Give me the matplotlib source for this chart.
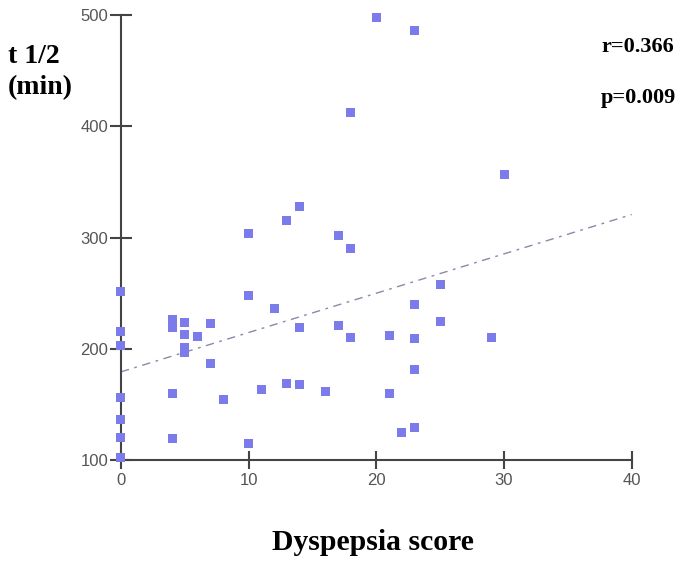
import numpy as np
import matplotlib
matplotlib.use("Agg")
import matplotlib.pyplot as plt

# values
score = [0, 0, 0, 0, 0, 0, 0,
         4, 4, 4, 4, 5, 5, 5, 5, 6, 7, 7, 8,
         10, 10, 10, 11, 12, 13, 13, 14, 14, 14, 16, 17, 17, 18, 18, 18,
         20, 21, 21, 22, 23, 23, 23, 23, 23, 25, 25, 29, 30]
t_half = [252, 216, 203, 156, 136, 120, 102,
          226, 219, 160, 119, 224, 213, 201, 197, 211, 223, 187, 154,
          304, 248, 115, 163, 236, 315, 169, 328, 219, 168, 162, 302, 221, 290, 210, 413,
          498, 212, 160, 125, 486, 240, 209, 181, 129, 258, 225, 210, 357]

fit_x = [0, 40]
fit_y = [179.3, 320.8]

xticks = [0, 10, 20, 30, 40]
yticks = [100, 200, 300, 400, 500]

fig = plt.figure(figsize=(6.85, 5.65), dpi=100)
ax = fig.add_axes([0.1766, 0.1858, 0.9222 - 0.1766, 0.9729 - 0.1858])

ax.scatter(score, t_half, marker='s', s=42, color='#7b7bea', edgecolors='none',
           clip_on=False, zorder=3)
ax.plot(fit_x, fit_y, color='#8a8aa8', lw=1.0, dashes=(6, 4, 2, 4), zorder=2)

ax.set_xlim(0, 40)
ax.set_ylim(100, 500)
ax.set_xticks(xticks)
ax.set_yticks(yticks)

for s in ['top', 'right']:
    ax.spines[s].set_visible(False)
for s in ['left', 'bottom']:
    ax.spines[s].set_color('#444444')
    ax.spines[s].set_linewidth(1.5)

# lengths in points (dpi 100): ~23 px across for y, ~17 px for x
ax.tick_params(axis='y', direction='inout', length=16.5, width=1.5, color='#444444',
               labelsize=12, labelcolor='#555555', pad=1)
ax.tick_params(axis='x', direction='inout', length=12.5, width=1.5, color='#444444',
               labelsize=12, labelcolor='#555555', pad=3)
for lab in ax.get_xticklabels() + ax.get_yticklabels():
    lab.set_family('Liberation Sans')

serif = 'Liberation Serif'
fig.text(272 / 685, 1 - 543 / 565, 'Dyspepsia score', family=serif,
         fontweight='bold', fontsize=21.4, ha='left', va='center')
fig.text(8 / 685, 1 - 72 / 565, 't 1/2\n(min)', family=serif, fontweight='bold',
         fontsize=20, ha='left', va='center', linespacing=1.3)
fig.text(601 / 685, 1 - 47 / 565, 'r=0.366', family=serif, fontweight='bold',
         fontsize=16, ha='left', va='center')
fig.text(601 / 685, 1 - 98 / 565, 'p=0.009', family=serif, fontweight='bold',
         fontsize=16, ha='left', va='center')

fig.savefig('out.png', dpi=100, facecolor='white')
